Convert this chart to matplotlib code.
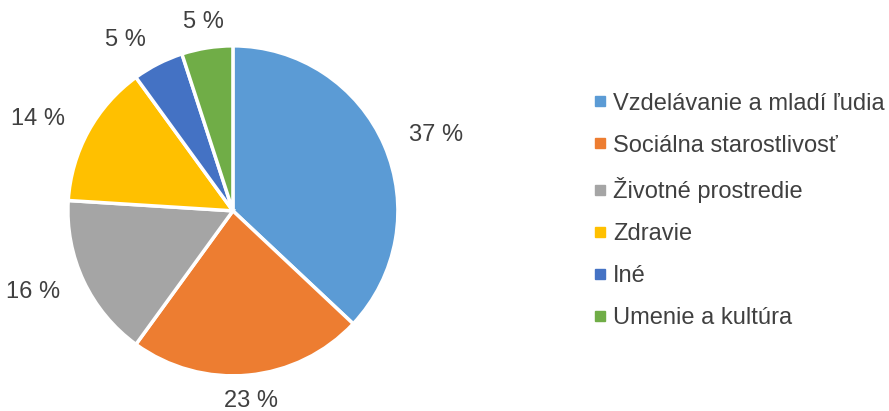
import numpy as np
import matplotlib.pyplot as plt
from matplotlib.lines import Line2D

plt.rcParams['font.family'] = ['Liberation Sans', 'DejaVu Sans']

categories = ["Vzdelávanie a mladí ľudia", "Sociálna starostlivosť",
              "Životné prostredie", "Zdravie", "Iné", "Umenie a kultúra"]
values = [37, 23, 16, 14, 5, 5]
colors = ["#5B9BD5", "#ED7D31", "#A5A5A5", "#FFC000", "#4472C4", "#70AD47"]

fig = plt.figure(figsize=(8.89, 4.11), dpi=100)
ax = fig.add_axes([0.262 - 0.1856, 0.487 - 0.4015, 0.3712, 0.803])

wedges, texts = ax.pie(values, colors=colors, startangle=90, counterclock=False,
                       labels=[f"{v} %" for v in values], labeldistance=1.16,
                       wedgeprops=dict(edgecolor="white", linewidth=2.5),
                       textprops=dict(fontsize=17, color="#404040"))
for w, t in zip(wedges, texts):
    ang = np.deg2rad((w.theta1 + w.theta2) / 2)
    c = np.cos(ang)
    t.set_horizontalalignment("center" if abs(c) < 0.3 else ("left" if c > 0 else "right"))
    t.set_verticalalignment("center")
    t.set_clip_on(False)
ax.set_xlim(-1, 1)
ax.set_ylim(-1, 1)
ax.set_aspect("equal")

handles = [Line2D([0], [0], marker="s", linestyle="", markersize=7,
                  markerfacecolor=c, markeredgecolor=c) for c in colors]
fig.legend(handles, categories, loc="center left", bbox_to_anchor=(0.662, 0.487),
           frameon=False, fontsize=17, labelcolor="#404040",
           handletextpad=0.05, labelspacing=0.85, handlelength=1.0,
           borderpad=0, borderaxespad=0)

fig.savefig("out.png", dpi=100)
